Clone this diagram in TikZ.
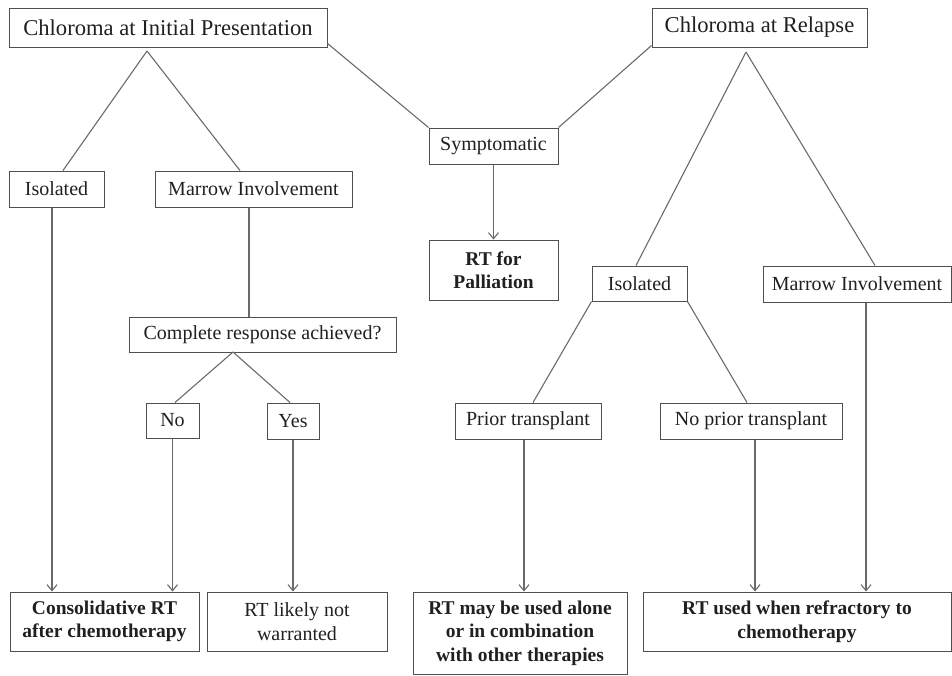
\documentclass[tikz,border=0pt]{standalone}
\usepackage{fontspec}
\setmainfont{Liberation Serif}
\usetikzlibrary{arrows.meta,calc}
\definecolor{txt}{HTML}{202020}
\definecolor{brd}{HTML}{505050}
\definecolor{lnk}{HTML}{6A6A6A}
\begin{document}
\begin{tikzpicture}[x=1pt,y=-1pt,
  bx/.style 2 args={draw=brd, line width=1pt, inner sep=0pt, text=txt,
    minimum width=#1, minimum height=#2, align=center,
    font=\fontsize{20}{23.5}\selectfont},
  big/.style={font=\fontsize{22.6}{26}\selectfont},
  bld/.style={font=\fontsize{19.5}{23.5}\selectfont\bfseries},
  ln/.style={draw=lnk, line width=1.1pt},
  arr/.style={ln, -{Straight Barb[length=6pt,width=10pt]}}]
\useasboundingbox (0,0) rectangle (952,675);
% nodes
\node[bx={318pt}{39pt}, big] (init) at (168,27.5) {Chloroma at Initial Presentation};
\node[bx={215pt}{39pt}, big] (relapse) at (759.5,27.5) {Chloroma at Relapse};
\node[bx={129pt}{36pt}] (sympt) at (493.5,146) {Symptomatic};
\node[bx={129pt}{60pt}, bld] (palli) at (493.5,270) {RT for\\Palliation};
\node[bx={95pt}{36pt}] (isoL) at (56.5,189) {Isolated};
\node[bx={197pt}{36pt}] (marL) at (253.5,189) {Marrow Involvement};
\node[bx={267pt}{35pt}] (cr) at (262.5,334.5) {Complete response achieved?};
\node[bx={53pt}{35pt}] (no) at (172.5,420.5) {No};
\node[bx={52pt}{36pt}] (yes) at (293,421) {Yes};
\node[bx={189pt}{59pt}, bld] (cons) at (104.5,621.5) {Consolidative RT\\after chemotherapy};
\node[bx={180pt}{59pt}] (notw) at (297,621.5) {RT likely not\\warranted};
\node[bx={95pt}{35pt}] (isoR) at (639.5,283.5) {Isolated};
\node[bx={188pt}{36pt}] (marR) at (857,284) {Marrow Involvement};
\node[bx={146pt}{36pt}] (prior) at (528,421) {Prior transplant};
\node[bx={182pt}{36pt}] (noprior) at (751,421) {No prior transplant};
\node[bx={214pt}{82pt}, bld] (may) at (520,633) {RT may be used alone\\or in combination\\with other therapies};
\node[bx={308pt}{59pt}, bld] (refr) at (797,621.5) {RT used when refractory to\\chemotherapy};
% branch points
\coordinate (initA) at (147,51);
\coordinate (relA) at (746,52);
\coordinate (crA) at (233,352);
% connectors
\draw[ln] (initA) -- ([xshift=6.5pt]isoL.north);
\draw[ln] (initA) -- ([xshift=-13.5pt]marL.north);
\draw[ln] ([yshift=4pt]init.south east) -- (sympt.north west);
\draw[ln] ([yshift=2pt]relapse.south west) -- (sympt.north east);
\draw[ln] (relA) -- ([xshift=-3.5pt]isoR.north);
\draw[ln] (relA) -- ([xshift=18pt]marR.north);
\draw[arr] (sympt.south) -- (palli.north);
\draw[arr] ([xshift=-4.5pt]isoL.south) -- ([xshift=-4.5pt]isoL.south |- cons.north);
\draw[ln] ([xshift=-4.5pt]marL.south) -- ([xshift=-4.5pt]marL.south |- cr.north);
\draw[ln] (crA) -- ([xshift=2.5pt]no.north);
\draw[ln] (crA) -- ([xshift=-3pt]yes.north);
\draw[arr] (no.south) -- (no.south |- cons.north);
\draw[arr] (yes.south) -- (yes.south |- notw.north);
\draw[ln] (isoR.south west) -- ([xshift=5pt]prior.north);
\draw[ln] (isoR.south east) -- ([xshift=-4pt]noprior.north);
\draw[arr] ([xshift=-4pt]prior.south) -- ([xshift=-4pt]prior.south |- may.north);
\draw[arr] ([xshift=4pt]noprior.south) -- ([xshift=4pt]noprior.south |- refr.north);
\draw[arr] ([xshift=9pt]marR.south) -- ([xshift=9pt]marR.south |- refr.north);
\end{tikzpicture}
\end{document}
